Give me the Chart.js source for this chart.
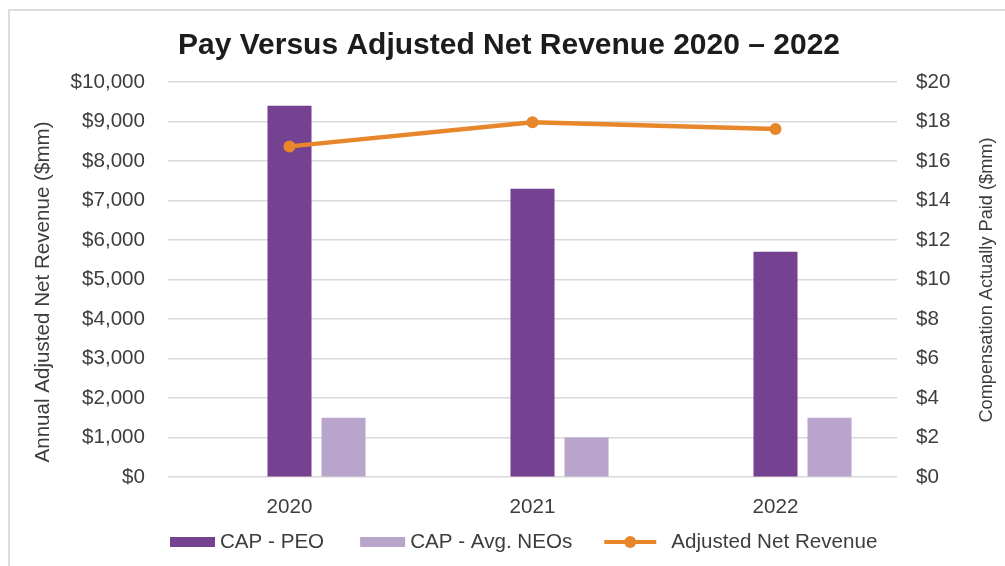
<!DOCTYPE html>
<html><head><meta charset="utf-8">
<script src="https://cdn.jsdelivr.net/npm/chart.js@4/dist/chart.umd.min.js"></script>
<style>html,body{margin:0;padding:0;background:#fff}#wrap{width:1005px;height:566px;position:relative}</style>
</head><body><div id="wrap"><canvas id="c" width="1005" height="566"></canvas></div>
<script>
const chartTitle = 'Pay Versus Adjusted Net Revenue 2020 – 2022';
const categories = ['2020', '2021', '2022'];
const capPEO = [18.8, 14.6, 11.4];
const capNEOs = [3.0, 2.0, 3.0];
const adjustedNetRevenue = [8370, 8980, 8810];
const emptySlot = [null, null, null];
const seriesLabels = ['CAP - PEO', 'CAP - Avg. NEOs', 'Adjusted Net Revenue'];
const leftAxisTitle = 'Annual Adjusted Net Revenue ($mm)';
const rightAxisTitle = 'Compensation Actually Paid ($mm)';

const FONT = '"Liberation Sans", Arial, Helvetica, sans-serif';
const TXT = '#3d3d3d';
const C_PEO = '#744290';
const C_NEO = '#B9A5CC';
const C_LINE = '#E8862B';

const deco = {
  id: 'deco',
  beforeDraw(chart) {
    const ctx = chart.ctx;
    ctx.save();
    ctx.fillStyle = '#fff';
    ctx.fillRect(0, 0, chart.width, chart.height);
    ctx.fillStyle = '#dcdcdc';
    ctx.fillRect(8, 9, chart.width - 8, 2);
    ctx.fillRect(8, 9, 2, chart.height - 9);
    ctx.restore();
  },
  afterDraw(chart) {
    const ctx = chart.ctx;
    ctx.save();
    ctx.fillStyle = '#1c1c1c';
    ctx.font = 'bold 30px ' + FONT;
    ctx.textAlign = 'center';
    ctx.textBaseline = 'middle';
    ctx.fillText(chartTitle, 509, 46);

    ctx.fillStyle = TXT;
    ctx.font = '20.6px ' + FONT;
    ctx.save(); ctx.translate(43, 292); ctx.rotate(-Math.PI / 2); ctx.fillText(leftAxisTitle, 0, 0); ctx.restore();
    ctx.font = '18.2px ' + FONT;
    ctx.save(); ctx.translate(987, 280); ctx.rotate(-Math.PI / 2); ctx.fillText(rightAxisTitle, 0, 0); ctx.restore();

    // legend
    ctx.font = '20.6px ' + FONT;
    const items = chart.data.datasets.filter(d => d.label);
    let x = 170;
    const y = 542;
    ctx.textAlign = 'left';
    seriesLabels.forEach((lab, i) => {
      const d = items.find(it => it.label === lab);
      if (!d) return;
      if (d.type === 'line') {
        ctx.strokeStyle = d.borderColor; ctx.lineWidth = 4;
        ctx.beginPath(); ctx.moveTo(x, y); ctx.lineTo(x + 52, y); ctx.stroke();
        ctx.fillStyle = d.borderColor;
        ctx.beginPath(); ctx.arc(x + 26, y, 6, 0, Math.PI * 2); ctx.fill();
        x += 52 + 15;
      } else {
        ctx.fillStyle = d.backgroundColor;
        ctx.fillRect(x, y - 5, 45, 10);
        x += 45 + 5;
      }
      ctx.fillStyle = TXT;
      ctx.fillText(lab, x, y);
      x += ctx.measureText(lab).width + (i === 0 ? 36 : 32);
    });
    ctx.restore();
  }
};

new Chart(document.getElementById('c'), {
  data: {
    labels: categories,
    datasets: [
      { type: 'line', label: seriesLabels[2], data: adjustedNetRevenue, yAxisID: 'y',
        borderColor: C_LINE, backgroundColor: C_LINE, borderWidth: 4.5, pointRadius: 6, pointHoverRadius: 6,
        pointBackgroundColor: C_LINE, pointBorderWidth: 0, tension: 0, order: 0 },
      { type: 'bar', label: '', data: emptySlot, yAxisID: 'y1', order: 1,
        categoryPercentage: 0.667, barPercentage: 0.815 },
      { type: 'bar', label: seriesLabels[0], data: capPEO, yAxisID: 'y1', backgroundColor: C_PEO, order: 1,
        categoryPercentage: 0.667, barPercentage: 0.815 },
      { type: 'bar', label: seriesLabels[1], data: capNEOs, yAxisID: 'y1', backgroundColor: C_NEO, order: 1,
        categoryPercentage: 0.667, barPercentage: 0.815 }
    ]
  },
  options: {
    responsive: false,
    animation: false,
    layout: { padding: { top: 82, bottom: 49, left: 0, right: 0 } },
    plugins: { legend: { display: false }, title: { display: false }, tooltip: { enabled: false } },
    scales: {
      x: {
        grid: { display: false }, border: { display: false },
        ticks: { font: { size: 20.6, family: FONT }, color: TXT, padding: 10 },
        afterFit(s) { s.height = 40; }
      },
      y: {
        position: 'left', min: 0, max: 10000,
        ticks: { stepSize: 1000, callback: v => '$' + Number(v).toLocaleString('en-US'),
          font: { size: 20.6, family: FONT }, color: TXT, padding: 23 },
        grid: { color: '#d9d9d9', lineWidth: 1.5, drawTicks: false }, border: { display: false },
        afterFit(s) { s.width = 168; }
      },
      y1: {
        position: 'right', min: 0, max: 20,
        ticks: { stepSize: 2, callback: v => '$' + v, font: { size: 20.6, family: FONT }, color: TXT, padding: 19 },
        grid: { drawOnChartArea: false, drawTicks: false }, border: { display: false },
        afterFit(s) { s.width = 108; }
      }
    }
  },
  plugins: [deco]
});
</script>
</body></html>
